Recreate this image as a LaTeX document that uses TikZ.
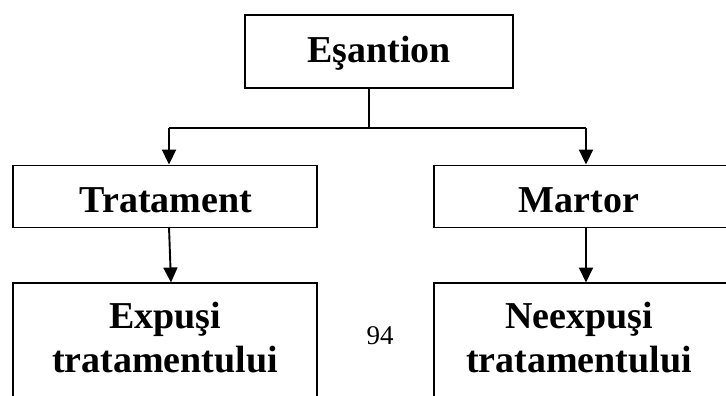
\documentclass[tikz,border=0pt]{standalone}
\usepackage{fontspec}
\setmainfont{Liberation Serif}
\usetikzlibrary{arrows.meta}
\begin{document}
\begin{tikzpicture}[x=1pt,y=-1pt,
  box/.style={draw, line width=1.9pt, inner sep=0pt},
  lbl/.style={font=\fontsize{38}{45}\selectfont\bfseries, anchor=base, inner sep=0pt},
  conn/.style={line width=1.9pt},
  arr/.style={line width=1.9pt, -{Triangle[length=15pt,width=14pt]}}]
\useasboundingbox (0,0) rectangle (726,396);
\clip (0,0) rectangle (726,396);
% boxes
\node[box, minimum width=268pt, minimum height=73pt] (es) at (379,51.5) {};
\node[box, minimum width=304pt, minimum height=62pt] (tr) at (165,196.5) {};
\node[box, minimum width=310pt, minimum height=62pt] (ma) at (589,196.5) {};
\node[box, minimum width=304pt, minimum height=160pt] (ex) at (165,363) {};
\node[box, minimum width=310pt, minimum height=160pt] (ne) at (589,363) {};
% labels
\node[lbl] (tes) at (379,63) {Eşantion};
\node[lbl] (ttr) at (166,212) {Tratament};
\node[lbl] (tma) at (579,212) {Martor};
\node[lbl] (tex1) at (165,328) {Expuşi};
\node[lbl] (tex2) at (165,372) {tratamentului};
\node[lbl] (tne1) at (579,328) {Neexpuşi};
\node[lbl] (tne2) at (579,372) {tratamentului};
\node[font=\fontsize{27}{30}\selectfont, inner sep=0pt, anchor=base] (pg) at (380,344) {94};
% connectors
\coordinate (j) at (369,128);
\coordinate (jl) at (169,128);
\coordinate (jr) at (586,128);
\draw[conn] (j |- es.south) -- (j);
\draw[conn] (jl) -- (jr);
\draw[arr] (jl) -- (jl |- tr.north);
\draw[arr] (jr) -- (jr |- ma.north);
\draw[arr] (169,227) -- (171,282.5);
\draw[arr] (586 ,227) -- (586,282.5);
\end{tikzpicture}
\end{document}
